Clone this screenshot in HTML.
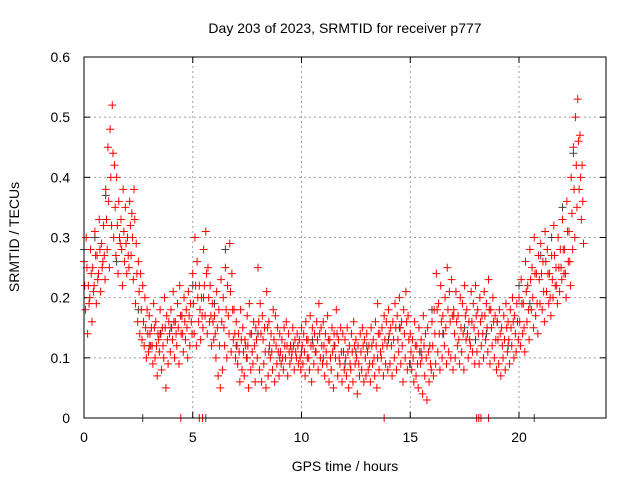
<!DOCTYPE html>
<html><head><meta charset="utf-8"><style>
body{margin:0;background:#fff}
svg text{font-family:"Liberation Sans",sans-serif;font-size:14px;fill:#000}
</style></head><body>
<svg id="chart" width="640" height="480" xmlns="http://www.w3.org/2000/svg">
<text x="345" y="33" text-anchor="middle">Day 203 of 2023, SRMTID for receiver p777</text>
<text x="345" y="471" text-anchor="middle">GPS time / hours</text>
<text x="19" y="237" text-anchor="middle" transform="rotate(-90 19 237)">SRMTID / TECUs</text>
<g id="grid"></g>
<g id="axes"></g>
<g id="marks"></g>
<rect x="84" y="57" width="522" height="361" fill="none" stroke="#000" stroke-width="1"/>
</svg>
<script>
const xTicks=[0,5,10,15,20];
const yTicks=[0,0.1,0.2,0.3,0.4,0.5,0.6];
const yTickLabels=["0","0.1","0.2","0.3","0.4","0.5","0.6"];
const redUpper=[.26,.30,.22,.28,.25,.31,.27,.33,.29,.32,
.38,.45,.48,.52,.42,.40,.36,.33,.38,.35,
.30,.36,.34,.38,.29,.26,.24,.22,.20,.18,
.17,.15,.19,.16,.14,.18,.15,.20,.17,.16,
.18,.21,.16,.19,.22,.17,.20,.18,.21,.19,
.24,.30,.26,.22,.20,.28,.31,.25,.22,.19,
.17,.21,.18,.23,.20,.25,.22,.29,.24,.18,
.16,.14,.18,.15,.13,.17,.19,.14,.16,.15,
.25,.19,.17,.15,.21,.16,.14,.18,.17,.15,
.14,.13,.15,.16,.14,.12,.15,.13,.14,.13,
.15,.14,.16,.13,.17,.15,.14,.16,.19,.15,
.16,.14,.17,.13,.15,.14,.18,.13,.15,.14,
.13,.15,.12,.14,.16,.13,.12,.14,.15,.13,
.14,.12,.15,.13,.16,.19,.14,.15,.17,.16,
.18,.15,.16,.19,.17,.20,.16,.18,.21,.17,
.14,.13,.16,.12,.15,.13,.17,.14,.15,.12,
.16,.18,.24,.19,.22,.17,.20,.25,.21,.23,
.18,.21,.17,.20,.19,.22,.18,.16,.21,.19,
.22,.18,.20,.17,.21,.19,.23,.18,.20,.17,
.16,.18,.15,.17,.19,.16,.18,.20,.17,.19,
.20,.23,.19,.26,.22,.28,.25,.30,.24,.27,
.29,.26,.31,.28,.24,.27,.32,.25,.30,.28,
.33,.28,.36,.31,.40,.45,.50,.53,.47,.42];
const redMid=[.22,.25,.19,.24,.21,.27,.23,.28,.25,.27,
.33,.36,.40,.44,.35,.32,.30,.28,.31,.29,
.27,.32,.30,.33,.24,.21,.18,.16,.15,.14,
.14,.12,.15,.12,.13,.14,.12,.15,.13,.14,
.15,.16,.14,.15,.17,.14,.16,.15,.17,.16,
.19,.22,.20,.18,.17,.22,.24,.20,.17,.16,
.14,.15,.12,.16,.15,.18,.17,.21,.18,.14,
.12,.11,.13,.11,.12,.12,.14,.11,.12,.13,
.16,.14,.13,.11,.15,.12,.11,.13,.12,.11,
.11,.10,.12,.12,.11,.10,.12,.11,.12,.10,
.12,.11,.13,.10,.12,.12,.11,.13,.14,.12,
.12,.11,.13,.10,.11,.12,.14,.10,.11,.11,
.10,.11,.09,.11,.12,.10,.09,.11,.12,.10,
.11,.09,.12,.10,.12,.14,.11,.12,.13,.12,
.14,.12,.13,.15,.13,.15,.12,.14,.16,.13,
.11,.10,.12,.09,.11,.10,.12,.10,.11,.09,
.12,.14,.18,.14,.16,.14,.15,.18,.16,.17,
.14,.16,.13,.15,.14,.17,.14,.13,.16,.15,
.17,.14,.16,.14,.17,.15,.18,.15,.16,.13,
.13,.14,.12,.13,.15,.13,.15,.16,.14,.16,
.16,.19,.15,.21,.18,.23,.20,.24,.19,.23,
.24,.21,.26,.24,.20,.23,.27,.22,.25,.25,
.28,.24,.31,.26,.34,.38,.42,.46,.40,.36];
const redLower=[.18,.14,.20,.16,.22,.19,.24,.21,.26,.23,
.28,.25,.32,.30,.27,.24,.29,.22,.26,.24,
.25,.27,.23,.19,.16,.14,.13,.12,.10,.11,
.12,.09,.10,.07,.11,.08,.10,.05,.09,.11,
.13,.10,.12,.09,.14,.11,.13,.10,.12,.14,
.14,.12,.16,.13,.15,.17,.14,.16,.12,.13,
.10,.07,.05,.08,.12,.10,.14,.11,.13,.10,
.09,.06,.08,.07,.10,.05,.08,.09,.06,.10,
.08,.06,.09,.05,.07,.10,.08,.06,.09,.07,
.09,.08,.10,.07,.09,.11,.08,.10,.09,.08,
.09,.07,.10,.08,.06,.09,.11,.08,.10,.09,
.07,.09,.06,.08,.05,.10,.07,.09,.06,.08,
.07,.05,.08,.06,.09,.04,.07,.08,.06,.07,
.08,.06,.09,.07,.05,.08,.10,.07,.09,.08,
.09,.07,.10,.08,.11,.09,.06,.10,.08,.09,
.08,.06,.07,.05,.09,.04,.07,.03,.06,.08,
.07,.09,.11,.08,.10,.12,.09,.11,.10,.08,
.10,.12,.09,.11,.08,.13,.10,.12,.11,.09,
.11,.09,.12,.10,.13,.11,.09,.12,.10,.08,
.09,.07,.10,.08,.11,.09,.12,.10,.11,.13,
.12,.14,.11,.16,.13,.18,.15,.17,.14,.19,
.18,.16,.21,.19,.17,.20,.22,.19,.21,.23,
.24,.20,.26,.22,.28,.30,.35,.38,.33,.29];
const redStep=0.1;
const grayValues=[.28,.30,.37,.26,.30,.18,.12,.14,.15,.17,.22,.20,.19,.28,.12,.10,.14,.11,.10,.12,.11,.13,.10,.12,.09,.11,.12,.10,.13,.15,.09,.11,.18,.14,.17,.15,.13,.14,.16,.12,.22,.19,.27,.30,.35,.44];
const grayStep=0.5;
const redZeroTimes=[4.45,5.3,5.45,13.8,18.05,18.15,18.25,18.6];
const grayZeroTimes=[2.7,5.6,20.7];

const X0=84,X1=606,Y0=418,Y1=57,XMAX=24,YMAX=0.6;
const xs=v=>X0+(X1-X0)*v/XMAX;
const ys=v=>Y0-(Y0-Y1)*v/YMAX;
const NS="http://www.w3.org/2000/svg";
const grid=document.getElementById('grid'),axes=document.getElementById('axes'),marks=document.getElementById('marks');
function mk(tag,attrs,parent){const e=document.createElementNS(NS,tag);for(const k in attrs)e.setAttribute(k,attrs[k]);parent.appendChild(e);return e;}
xTicks.forEach(t=>{
  const x=xs(t);
  if(t>0){const g=mk('line',{x1:x,x2:x,y1:Y0,y2:Y1,stroke:'#a0a0a0','stroke-dasharray':'2,3'},grid);
  
  }
  mk('line',{x1:x,x2:x,y1:Y0,y2:Y0-6,stroke:'#000'},axes);
  mk('line',{x1:x,x2:x,y1:Y1,y2:Y1+6,stroke:'#000'},axes);
  const l=mk('text',{x:x,y:Y0+24,'text-anchor':'middle'},axes);l.textContent=String(t);
  
  
});
yTicks.forEach((t,i)=>{
  const y=ys(t);
  if(t>0&&t<YMAX){const g=mk('line',{x1:X0,x2:X1,y1:y,y2:y,stroke:'#a0a0a0','stroke-dasharray':'2,3'},grid);
  
  }
  mk('line',{x1:X0,x2:X0+6,y1:y,y2:y,stroke:'#000'},axes);
  mk('line',{x1:X1,x2:X1-6,y1:y,y2:y,stroke:'#000'},axes);
  const l=mk('text',{x:X0-14,y:y+5,'text-anchor':'end'},axes);l.textContent=yTickLabels[i];
  
  
});
function plus(t,v,color,name){
  const x=xs(t),y=ys(v);
  const p=mk('path',{d:`M${x-4},${y}H${x+4}M${x},${y-4}V${y+4}`,stroke:color,'stroke-width':1,fill:'none'},marks);
  
  
}
grayValues.forEach((v,i)=>plus(i*grayStep,v,'#404040','gray-point'));
grayZeroTimes.forEach(t=>plus(t,0,'#404040','gray-zero-point'));
redUpper.forEach((v,i)=>plus(i*redStep,v,'#ff0000','red-point'));
redMid.forEach((v,i)=>plus(i*redStep+0.033,v,'#ff0000','red-point'));
redLower.forEach((v,i)=>plus(i*redStep+0.066,v,'#ff0000','red-point'));
redZeroTimes.forEach(t=>plus(t,0,'#ff0000','red-zero-point'));
</script>
</body></html>
